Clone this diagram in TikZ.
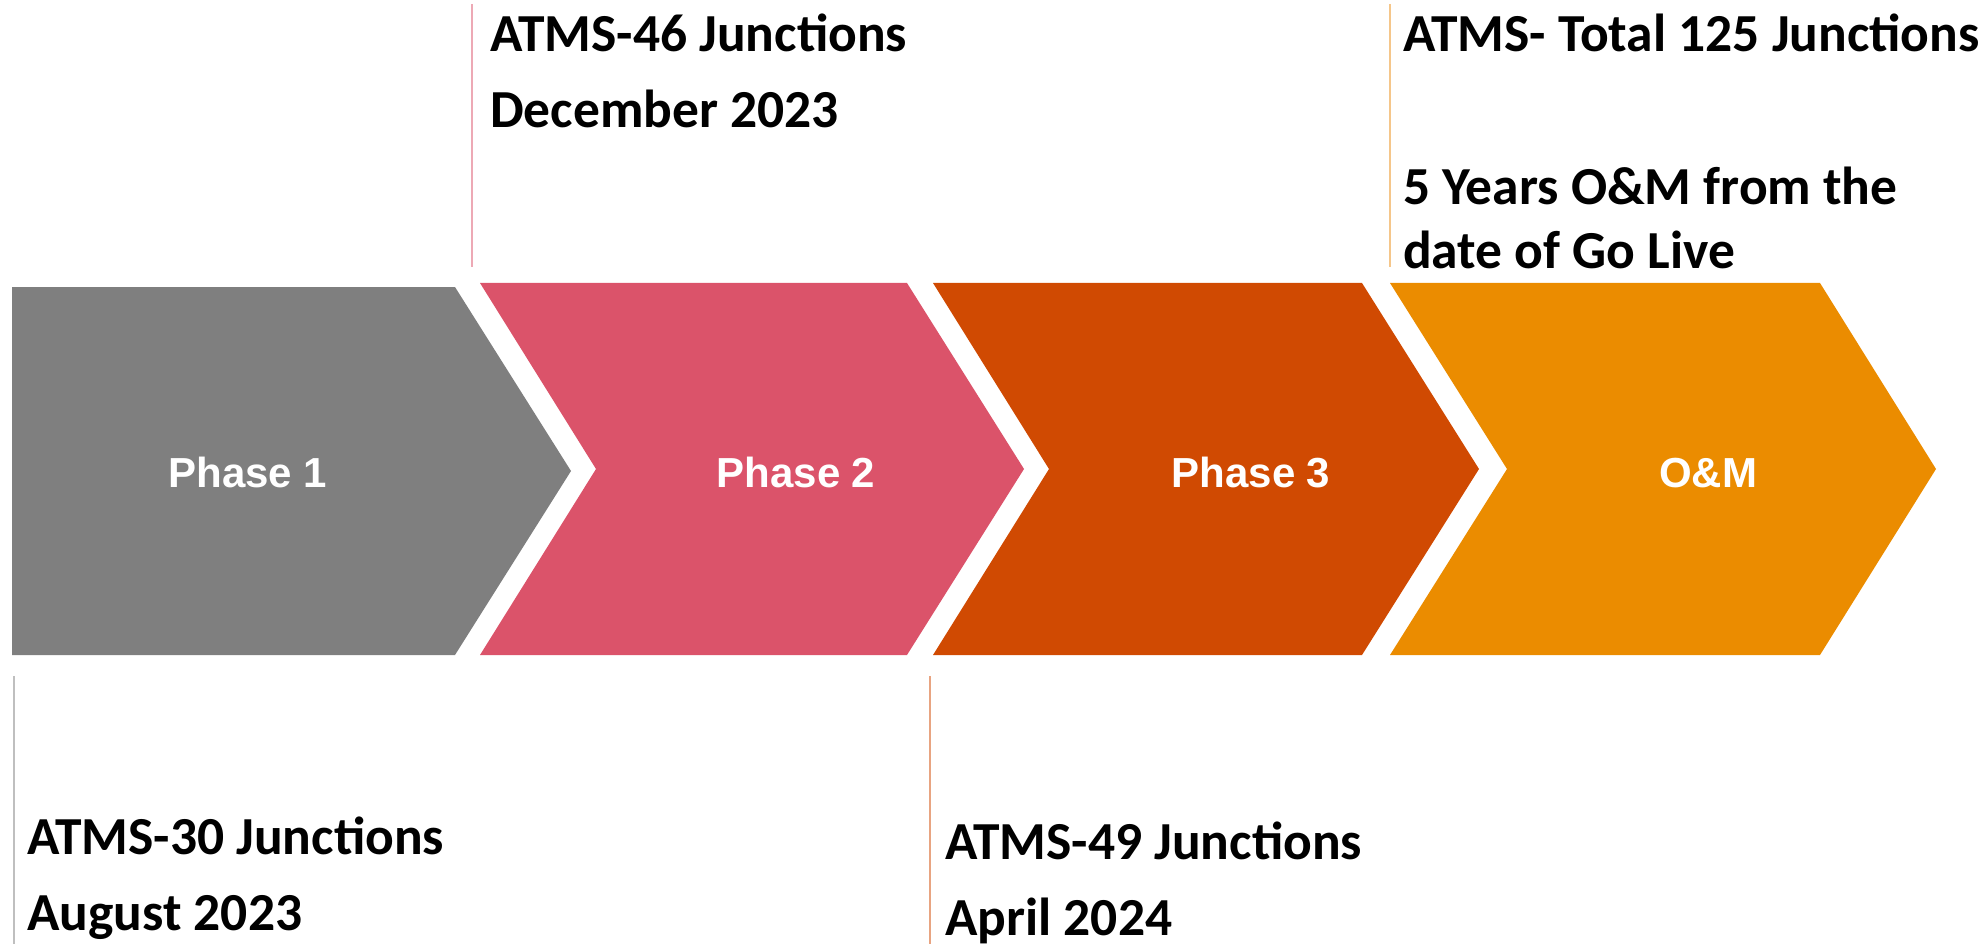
\documentclass[tikz,border=0pt]{standalone}
\usepackage{fontspec}
\setmainfont{Carlito}
\newfontfamily\arialfont{Liberation Sans}
\definecolor{cgray}{HTML}{7F7F7F}
\definecolor{cpink}{HTML}{DB536A}
\definecolor{corange}{HTML}{D04A02}
\definecolor{cyellow}{HTML}{EB8C00}
\definecolor{lgray}{HTML}{BFBFBF}
\definecolor{lpink}{HTML}{EDA9B5}
\definecolor{lorange}{HTML}{E8A481}
\definecolor{lyellow}{HTML}{F5C68A}
\tikzset{
  phasetext/.style={text=white, font=\arialfont\bfseries\fontsize{42}{50}\selectfont, anchor=base, inner sep=0pt},
  labeltext/.style={text=black, font=\bfseries\fontsize{53.5}{60}\selectfont, anchor=base west, inner sep=0pt},
  tick/.style={line width=1.4pt}
}
\begin{document}
\begin{tikzpicture}[x=1pt,y=-1pt]
\useasboundingbox (0,0) rectangle (1982,944);
% chevrons
\fill[cgray] (12,287) -- (455,287) -- (571,471) -- (455,655) -- (12,655) -- cycle;
\fill[cpink] (480,283) -- (907,283) -- (1024,469) -- (907,655) -- (480,655) -- (596,469) -- cycle;
\fill[corange] (933,283) -- (1362,283) -- (1479,469) -- (1362,655) -- (933,655) -- (1049,469) -- cycle;
\fill[cyellow] (1390,283) -- (1820,283) -- (1936,469) -- (1820,655) -- (1390,655) -- (1507,469) -- cycle;
% phase labels
\node[phasetext] (p1) at (248,487) {Phase 1};
\node[phasetext] (p2) at (796,487) {Phase 2};
\node[phasetext] (p3) at (1251,487) {Phase 3};
\node[phasetext] (om) at (1708,487) {O\&M};
% marker lines
\coordinate (l2a) at (472,4); \coordinate (l2b) at (472,267);
\coordinate (l4a) at (1390,4); \coordinate (l4b) at (1390,267);
\coordinate (l1a) at (14,676); \coordinate (l1b) at (14,944);
\coordinate (l3a) at (930,676); \coordinate (l3b) at (930,944);
\draw[tick, lpink] (l2a) -- (l2b);
\draw[tick, lyellow] (l4a) -- (l4b);
\draw[tick, lgray] (l1a) -- (l1b);
\draw[tick, lorange] (l3a) -- (l3b);
% annotations
\node[labeltext] (t2a) at (490,52) {ATMS-46 Junctions};
\node[labeltext] (t2b) at (490,128) {December 2023};
\node[labeltext] (t4a) at (1403,52) {ATMS- Total 125 Junctions};
\node[labeltext] (t4b) at (1403,205) {5 Years O\&M from the};
\node[labeltext] (t4c) at (1403,269) {date of Go Live};
\node[labeltext] (t1a) at (27,854) {ATMS-30 Junctions};
\node[labeltext] (t1b) at (27,930) {August 2023};
\node[labeltext] (t3a) at (945,859) {ATMS-49 Junctions};
\node[labeltext] (t3b) at (945,935) {April 2024};
\end{tikzpicture}
\end{document}
